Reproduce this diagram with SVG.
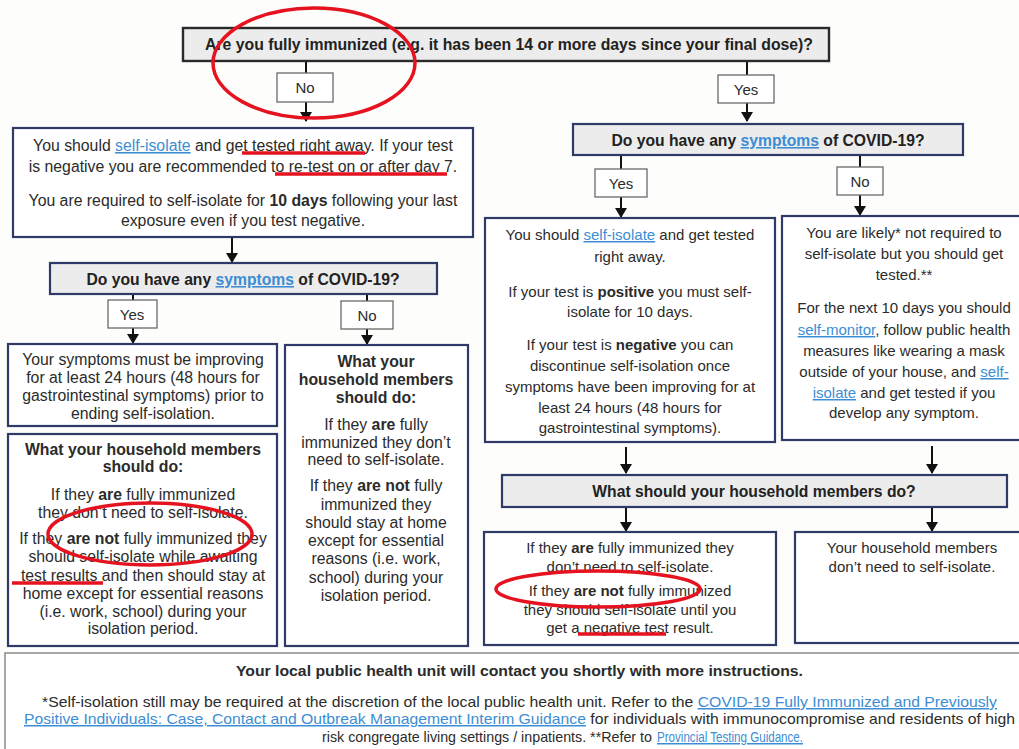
<svg xmlns="http://www.w3.org/2000/svg" width="1019" height="749" viewBox="0 0 1019 749">
<defs>
<marker id="arr" markerUnits="userSpaceOnUse" markerWidth="10" markerHeight="12" refX="9" refY="6" orient="auto">
<path d="M0,0 L10,6 L0,12 z" fill="#111"/>
</marker>
<style>
.box{fill:#fff;stroke:#2f3a68;stroke-width:2.2}
.q{fill:#ececec;stroke:#2f3a68;stroke-width:2.2}
.qt{fill:#ececec;stroke:#2a2a2a;stroke-width:2.4}
.lbl{fill:#fff;stroke:#6a6a6a;stroke-width:1.3}
.ln{stroke:#111;stroke-width:2;fill:none}
text{font-family:"Liberation Sans",Arial,sans-serif;fill:#2b2b2b}
.t{font-size:15px;text-anchor:middle}
.tl{font-size:15.8px;text-anchor:middle}
.b{font-weight:bold}
.qtx{font-size:15.7px;font-weight:bold;text-anchor:middle;fill:#222}
.lk{fill:#3c8dd3;text-decoration:underline}
.ft{font-size:15px}
.red{fill:none;stroke:#e5121f;stroke-width:3.5}
</style>
</defs>
<rect width="1019" height="749" fill="#fdfdfb"/>

<g id="connectors">
<path class="ln" d="M306,62 V73"/>
<path class="ln" d="M306,102 V121" marker-end="url(#arr)"/>
<path class="ln" d="M747,62 V75"/>
<path class="ln" d="M747,103 V121" marker-end="url(#arr)"/>
<path class="ln" d="M232,237 V262" marker-end="url(#arr)"/>
<path class="ln" d="M133,294 V300"/>
<path class="ln" d="M133,328 V343" marker-end="url(#arr)"/>
<path class="ln" d="M367,294 V301"/>
<path class="ln" d="M367,329 V344" marker-end="url(#arr)"/>
<path class="ln" d="M621,155 V169"/>
<path class="ln" d="M621,197 V217" marker-end="url(#arr)"/>
<path class="ln" d="M860,155 V167"/>
<path class="ln" d="M860,195 V215" marker-end="url(#arr)"/>
<path class="ln" d="M626,447 V473" marker-end="url(#arr)"/>
<path class="ln" d="M932,446 V473" marker-end="url(#arr)"/>
<path class="ln" d="M626,507 V531" marker-end="url(#arr)"/>
<path class="ln" d="M932,507 V531" marker-end="url(#arr)"/>
</g>

<g id="q-immunized">
<rect class="qt" x="183" y="28" width="646" height="33"/>
<text class="qtx" x="509" y="50" textLength="608" lengthAdjust="spacingAndGlyphs">Are you fully immunized (e.g. it has been 14 or more days since your final dose)?</text>
</g>
<g id="lbl-no-1"><rect class="lbl" x="277" y="73" width="56" height="29"/><text class="t" x="305" y="93">No</text></g>
<g id="lbl-yes-1"><rect class="lbl" x="718" y="75" width="56" height="28"/><text class="t" x="746" y="95">Yes</text></g>

<g id="box-no-immunized">
<rect class="box" x="13" y="128" width="460" height="109"/>
<text class="tl" x="243" y="151">You should <tspan class="lk">self-isolate</tspan> and get tested right away. If your test</text>
<text class="tl" x="243" y="172">is negative you are recommended to re-test on or after day 7.</text>
<text class="tl" x="243" y="206">You are required to self-isolate for <tspan class="b">10 days</tspan> following your last</text>
<text class="tl" x="243" y="226">exposure even if you test negative.</text>
</g>

<g id="q-symptoms-left">
<rect class="q" x="50" y="263" width="387" height="31"/>
<text class="qtx" x="243" y="285">Do you have any <tspan class="lk">symptoms</tspan> of COVID-19?</text>
</g>
<g id="lbl-yes-2"><rect class="lbl" x="108" y="300" width="49" height="28"/><text class="t" x="132" y="320">Yes</text></g>
<g id="lbl-no-2"><rect class="lbl" x="341" y="301" width="52" height="28"/><text class="t" x="367" y="321">No</text></g>

<g id="box-symptoms-improving">
<rect class="box" x="8" y="344" width="269" height="82"/>
<text class="tl" x="143" y="365">Your symptoms must be improving</text>
<text class="tl" x="143" y="383">for at least 24 hours (48 hours for</text>
<text class="tl" x="143" y="401">gastrointestinal symptoms) prior to</text>
<text class="tl" x="143" y="419">ending self-isolation.</text>
</g>

<g id="box-household-left">
<rect class="box" x="8" y="434" width="269" height="212"/>
<text class="tl b" x="143" y="455">What your household members</text>
<text class="tl b" x="143" y="472">should do:</text>
<text class="tl" x="143" y="500">If they <tspan class="b">are</tspan> fully immunized</text>
<text class="tl" x="143" y="518">they don’t need to self-isolate.</text>
<text class="tl" x="143" y="544">If they <tspan class="b">are not</tspan> fully immunized they</text>
<text class="tl" x="143" y="562">should self-isolate while awaiting</text>
<text class="tl" x="143" y="581">test results and then should stay at</text>
<text class="tl" x="143" y="599">home except for essential reasons</text>
<text class="tl" x="143" y="617">(i.e. work, school) during your</text>
<text class="tl" x="143" y="634">isolation period.</text>
</g>

<g id="box-household-middle">
<rect class="box" x="285" y="345" width="183" height="301"/>
<text class="tl b" x="376" y="367">What your</text>
<text class="tl b" x="376" y="385">household members</text>
<text class="tl b" x="376" y="403">should do:</text>
<text class="tl" x="376" y="430">If they <tspan class="b">are</tspan> fully</text>
<text class="tl" x="376" y="448">immunized they don’t</text>
<text class="tl" x="376" y="465">need to self-isolate.</text>
<text class="tl" x="376" y="491">If they <tspan class="b">are not</tspan> fully</text>
<text class="tl" x="376" y="510">immunized they</text>
<text class="tl" x="376" y="528">should stay at home</text>
<text class="tl" x="376" y="546">except for essential</text>
<text class="tl" x="376" y="564">reasons (i.e. work,</text>
<text class="tl" x="376" y="583">school) during your</text>
<text class="tl" x="376" y="601">isolation period.</text>
</g>

<g id="q-symptoms-right">
<rect class="q" x="573" y="124" width="390" height="31"/>
<text class="qtx" x="768" y="146">Do you have any <tspan class="lk">symptoms</tspan> of COVID-19?</text>
</g>
<g id="lbl-yes-3"><rect class="lbl" x="595" y="169" width="52" height="28"/><text class="t" x="621" y="189">Yes</text></g>
<g id="lbl-no-3"><rect class="lbl" x="837" y="167" width="46" height="28"/><text class="t" x="860" y="187">No</text></g>

<g id="box-yes-symptoms">
<rect class="box" x="485" y="218" width="290" height="224"/>
<text class="t" x="630" y="240">You should <tspan class="lk">self-isolate</tspan> and get tested</text>
<text class="t" x="630" y="262">right away.</text>
<text class="t" x="630" y="297">If your test is <tspan class="b">positive</tspan> you must self-</text>
<text class="t" x="630" y="317">isolate for 10 days.</text>
<text class="t" x="630" y="350">If your test is <tspan class="b">negative</tspan> you can</text>
<text class="t" x="630" y="371">discontinue self-isolation once</text>
<text class="t" x="630" y="392">symptoms have been improving for at</text>
<text class="t" x="630" y="413">least 24 hours (48 hours for</text>
<text class="t" x="630" y="433">gastrointestinal symptoms).</text>
</g>

<g id="box-no-symptoms">
<rect class="box" x="782" y="216" width="250" height="224"/>
<text class="t" x="904" y="238">You are likely* not required to</text>
<text class="t" x="904" y="259">self-isolate but you should get</text>
<text class="t" x="904" y="280">tested.**</text>
<text class="t" x="904" y="313">For the next 10 days you should</text>
<text class="t" x="904" y="335"><tspan class="lk">self-monitor</tspan>, follow public health</text>
<text class="t" x="904" y="356">measures like wearing a mask</text>
<text class="t" x="904" y="377">outside of your house, and <tspan class="lk">self-</tspan></text>
<text class="t" x="904" y="398"><tspan class="lk">isolate</tspan> and get tested if you</text>
<text class="t" x="904" y="418">develop any symptom.</text>
</g>

<g id="q-household">
<rect class="q" x="502" y="475" width="505" height="32"/>
<text class="qtx" x="754" y="497">What should your household members do?</text>
</g>

<g id="box-household-right-1">
<rect class="box" x="484" y="532" width="292" height="113"/>
<text class="t" x="630" y="553">If they <tspan class="b">are</tspan> fully immunized they</text>
<text class="t" x="630" y="572">don’t need to self-isolate.</text>
<text class="t" x="630" y="596">If they <tspan class="b">are not</tspan> fully immunized</text>
<text class="t" x="630" y="615">they should self-isolate until you</text>
<text class="t" x="630" y="633">get a negative test result.</text>
</g>

<g id="box-household-right-2">
<rect class="box" x="795" y="532" width="240" height="111"/>
<text class="t" x="912" y="553">Your household members</text>
<text class="t" x="912" y="572">don’t need to self-isolate.</text>
</g>

<g id="box-footer">
<rect x="5" y="653" width="1030" height="100" fill="#fff" stroke="#8a8a8a" stroke-width="1.5"/>
<text class="b" x="236" y="676" font-size="15" textLength="567" lengthAdjust="spacingAndGlyphs">Your local public health unit will contact you shortly with more instructions.</text>
<text class="ft" x="42" y="707" textLength="955" lengthAdjust="spacingAndGlyphs">*Self-isolation still may be required at the discretion of the local public health unit. Refer to the <tspan class="lk">COVID-19 Fully Immunized and Previously</tspan></text>
<text class="ft" x="24" y="724" textLength="991" lengthAdjust="spacingAndGlyphs"><tspan class="lk">Positive Individuals: Case, Contact and Outbreak Management Interim Guidance</tspan> for individuals with immunocompromise and residents of high</text>
<text class="ft" x="322" y="742" textLength="330" lengthAdjust="spacingAndGlyphs">risk congregate living settings / inpatients. **Refer to</text>
<text class="ft lk" x="657" y="742" textLength="146" lengthAdjust="spacingAndGlyphs">Provincial Testing Guidance.</text>
</g>

<g id="annotations">
<ellipse class="red" cx="314" cy="63" rx="101" ry="55"/>
<line class="red" x1="242" y1="153" x2="365" y2="153"/>
<line class="red" x1="275" y1="174" x2="447" y2="174"/>
<ellipse class="red" cx="150" cy="534" rx="102" ry="31"/>
<line class="red" x1="12" y1="583" x2="103" y2="583"/>
<ellipse class="red" cx="598" cy="589" rx="102" ry="18"/>
<line class="red" x1="578" y1="634" x2="666" y2="634"/>
</g>
</svg>
